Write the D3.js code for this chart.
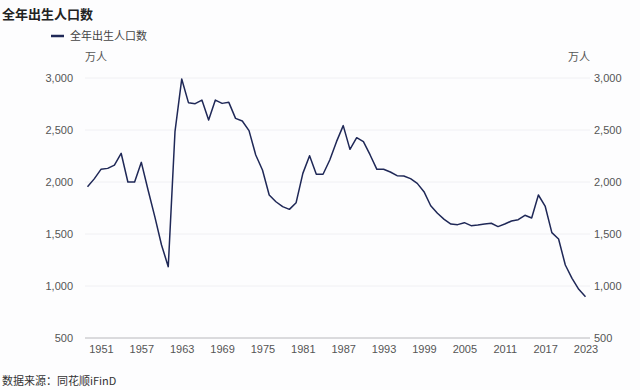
<!DOCTYPE html>
<html>
<head>
<meta charset="utf-8">
<script src="https://cdn.jsdelivr.net/npm/d3@7.9.0/dist/d3.min.js"></script>
<style>
  html, body { margin: 0; padding: 0; background: #fdfdfe; }
  svg { display: block; font-family: "Noto Sans CJK SC", "Noto Sans", sans-serif; }
</style>
</head>
<body>
<svg id="chart" width="640" height="390"></svg>
<script>
const years = d3.range(1949, 2024);
const births = [
  1955, 2030, 2122, 2131, 2163, 2276, 2000, 2000, 2189, 1923,
  1667, 1394, 1186, 2484, 2990, 2763, 2753, 2788, 2596, 2788,
  2756, 2766, 2612, 2587, 2494, 2260, 2115, 1875, 1810, 1763,
  1737, 1801, 2083, 2253, 2074, 2074, 2212, 2388, 2542, 2314,
  2426, 2388, 2260, 2122, 2122, 2096, 2061, 2058, 2032, 1987,
  1907, 1772, 1699, 1641, 1596, 1590, 1609, 1580, 1587, 1596,
  1603, 1571, 1596, 1625, 1638, 1680, 1654, 1875, 1769, 1513,
  1452, 1202, 1074, 968, 897
];
const yTicks = [500, 1000, 1500, 2000, 2500, 3000];
const xTicks = [1951, 1957, 1963, 1969, 1975, 1981, 1987, 1993, 1999, 2005, 2011, 2017, 2023];
const seriesName = "全年出生人口数";
const unit = "万人";
const source = "数据来源：同花顺iFinD";

const data = years.map((y, i) => ({ year: y, value: births[i] }));

const svg = d3.select("#chart");
const plot = { left: 85, right: 590, top: 78, bottom: 338 };

const x = d3.scaleLinear().domain([1949, 2023]).range([87.5, 585.5]);
const y = d3.scaleLinear().domain([500, 3000]).range([plot.bottom, plot.top]);

// gridlines
svg.append("g")
  .selectAll("line")
  .data(yTicks.filter(d => d > 500))
  .join("line")
  .attr("x1", plot.left)
  .attr("x2", plot.right)
  .attr("y1", d => y(d))
  .attr("y2", d => y(d))
  .attr("stroke", "#f0f0f3")
  .attr("stroke-width", 1);

// baseline
svg.append("line")
  .attr("x1", plot.left)
  .attr("x2", plot.right)
  .attr("y1", y(500))
  .attr("y2", y(500))
  .attr("stroke", "#b8b8bc")
  .attr("stroke-width", 1);

const fmt = d3.format(",");

// left axis labels
const yLeft = d3.axisLeft(y).tickValues(yTicks).tickFormat(fmt).tickSize(0).tickPadding(12);
svg.append("g")
  .attr("transform", `translate(${plot.left},0)`)
  .call(yLeft)
  .call(g => g.select(".domain").remove())
  .call(g => g.selectAll("text").attr("fill", "#555").attr("font-size", 11));

// right axis labels
const yRight = d3.axisRight(y).tickValues(yTicks).tickFormat(fmt).tickSize(0).tickPadding(4);
svg.append("g")
  .attr("transform", `translate(${plot.right},0)`)
  .call(yRight)
  .call(g => g.select(".domain").remove())
  .call(g => g.selectAll("text").attr("fill", "#555").attr("font-size", 11));

// x axis labels
const xAxis = d3.axisBottom(x).tickValues(xTicks).tickFormat(d3.format("d")).tickSize(0).tickPadding(7);
svg.append("g")
  .attr("transform", `translate(0,${plot.bottom})`)
  .call(xAxis)
  .call(g => g.select(".domain").remove())
  .call(g => g.selectAll("text").attr("fill", "#555").attr("font-size", 11));

// line
const line = d3.line().x(d => x(d.year)).y(d => y(d.value));
svg.append("path")
  .datum(data)
  .attr("d", line)
  .attr("fill", "none")
  .attr("stroke", "#1f2857")
  .attr("stroke-width", 1.5)
  .attr("stroke-linejoin", "round");

// title
svg.append("text")
  .attr("x", 2)
  .attr("y", 19)
  .attr("font-size", 13)
  .attr("font-weight", "bold")
  .attr("fill", "#222")
  .text(seriesName);

// legend
svg.append("line")
  .attr("x1", 51).attr("x2", 64)
  .attr("y1", 36).attr("y2", 36)
  .attr("stroke", "#1f2857").attr("stroke-width", 2.5);
svg.append("text")
  .attr("x", 70).attr("y", 40)
  .attr("font-size", 11)
  .attr("fill", "#444")
  .text(seriesName);

// unit labels
svg.append("text")
  .attr("x", 85).attr("y", 61)
  .attr("font-size", 11).attr("fill", "#555")
  .text(unit);
svg.append("text")
  .attr("x", 590).attr("y", 61)
  .attr("text-anchor", "end")
  .attr("font-size", 11).attr("fill", "#555")
  .text(unit);

// source
svg.append("text")
  .attr("x", 2).attr("y", 385)
  .attr("font-size", 11).attr("fill", "#333")
  .text(source);
</script>
</body>
</html>
